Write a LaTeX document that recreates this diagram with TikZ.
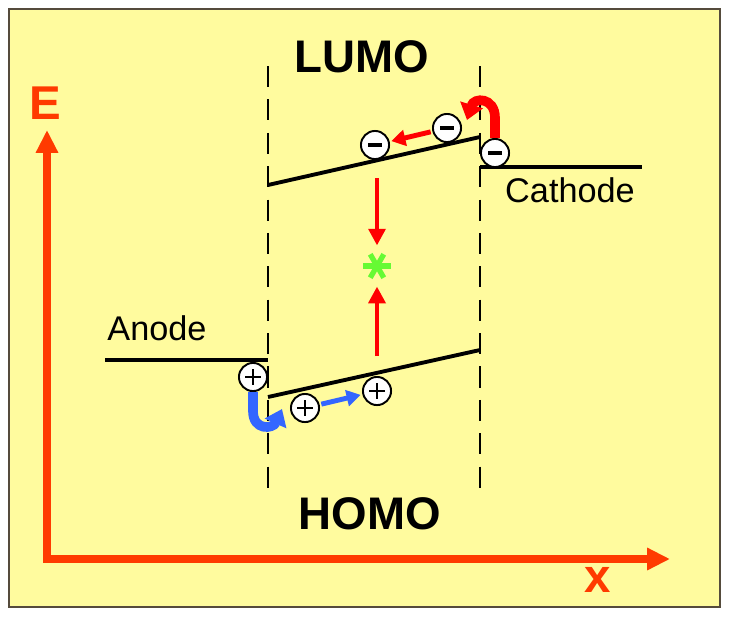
\documentclass[tikz,border=0pt]{standalone}
\usepackage{fontspec}
\setmainfont{Liberation Sans}
\usetikzlibrary{arrows.meta}
\definecolor{bgyellow}{RGB}{255,251,158}
\definecolor{axisred}{RGB}{255,58,0}
\definecolor{framegray}{RGB}{85,75,60}
\definecolor{holeblue}{RGB}{51,102,255}
\definecolor{stargreen}{RGB}{102,250,51}
\tikzset{
  level/.style={line width=2.2pt},
  barrier/.style={line width=1.4pt, dash pattern=on 12pt off 7pt},
  axis/.style={axisred, line width=4pt, {Triangle[length=13pt,width=12pt]}-{Triangle[length=13pt,width=12pt]}},
  charge/.style={circle, draw, fill=white, line width=1.1pt, minimum size=16pt, inner sep=0pt},
  elec/.style={charge, path picture={\draw[line width=2.4pt] ([xshift=-3.8pt]path picture bounding box.center) -- ([xshift=3.8pt]path picture bounding box.center);}},
  hole/.style={charge, path picture={\draw[line width=0.9pt] ([xshift=-4.5pt]path picture bounding box.center) -- ([xshift=4.5pt]path picture bounding box.center) ([yshift=-4.5pt]path picture bounding box.center) -- ([yshift=4.5pt]path picture bounding box.center);}},
  drift/.style={line width=2.8pt, -{Triangle[length=8pt,width=9pt]}, shorten >=1pt, shorten <=1pt},
  uturn/.style={line width=5.5pt, -{Triangle[length=9pt,width=13pt]}},
  recomb/.style={red, line width=2.8pt, -{Triangle[length=9.5pt,width=9.5pt]}, shorten >=4pt},
  big/.style={font=\fontsize{26}{30}\selectfont\bfseries},
  small/.style={font=\fontsize{19.5}{23}\selectfont}
}
\begin{document}
\begin{tikzpicture}[x=0.02cm, y=-0.02cm]
  \fill[white] (0,0) rectangle (733,619);
  \draw[framegray, fill=bgyellow, line width=1.2pt] (9,9) rectangle (720,607);
  \draw[axis] (47,130) |- (670,559);
  \node[axisred, big, font=\fontsize{27}{30}\selectfont\bfseries] (elab) at (45,103) {E};
  \node[axisred, big, font=\fontsize{27}{30}\selectfont\bfseries] (xlab) at (598,580) {x};
  \draw[barrier] (268,66) -- (268,494);
  \draw[barrier] (480,66) -- (480,494);
  \node[big] (lumo) at (362,57) {LUMO};
  \node[big] (homo) at (370,514) {HOMO};
  \draw[level] (268,185) -- (480,137);
  \draw[level] (268,397) -- (480,350);
  \draw[level] (105,360) -- (268,360);
  \draw[level] (480,167) -- (642,167);
  \node[small] (anode) at (157,328) {Anode};
  \node[small] (cathode) at (570,190) {Cathode};
  \foreach \n/\x/\y in {e1/375/145, e2/447/128, e3/495/153}
    \node[elec] (\n) at (\x,\y) {};
  \foreach \n/\x/\y in {h1/253/377, h2/305/408, h3/377/391}
    \node[hole] (\n) at (\x,\y) {};
  \draw[drift, red] (e2) -- (e1);
  \draw[drift, holeblue] (h2) -- (h3);
  \coordinate (einj) at (467,120);
  \coordinate (hinj) at (282,409);
  \draw[uturn, red] (e3.north) -- (495,118) .. controls (495,97) and (474,97) .. (einj);
  \draw[uturn, holeblue] (h1.south) -- (253,411) .. controls (253,431) and (273,429) .. (hinj);
  \node[circle, minimum size=15pt, inner sep=0pt] (exc) at (377,266) {};
  \foreach \a [evaluate=\a as \b using \a+180] in {0,60,120}
    \draw[stargreen, line width=3pt] (exc.\a) -- (exc.\b);
  \coordinate (lumoc) at (377,178);
  \coordinate (homoc) at (377,356);
  \draw[recomb] (lumoc) -- (exc);
  \draw[recomb] (homoc) -- (exc);
\end{tikzpicture}
\end{document}
